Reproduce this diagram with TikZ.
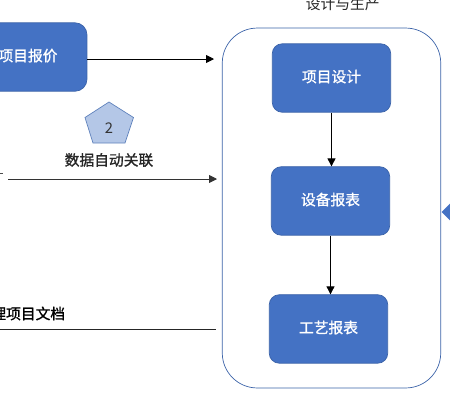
\documentclass[tikz,border=0pt]{standalone}
\usepackage{fontspec}
\setmainfont{Noto Sans CJK SC}
\newfontfamily\medfont[FakeBold=1.2]{Noto Sans CJK SC}
\usetikzlibrary{shapes.geometric,arrows.meta}
\definecolor{boxblue}{HTML}{4472C4}
\definecolor{boxedge}{HTML}{3A62A8}
\definecolor{penfill}{HTML}{B4C7E7}
\definecolor{penedge}{HTML}{5F82BC}
\begin{document}
\begin{tikzpicture}
    [x=0.02cm, y=-0.02cm,
    node distance =2.46cm,
    ->-/.style={thin, -{Triangle[length=4.5pt,width=4.5pt]}},
    block/.style={draw=boxedge, fill=boxblue, rounded corners=0.2cm, text=white, font=\fontsize{8.4}{10}\medfont, text depth=2.3pt, minimum width=2.37cm, minimum height=1.37cm, inner sep=0pt},
    caption/.style={inner sep=0pt, text=black!85, font=\fontsize{8.4}{10}\selectfont}]
        \useasboundingbox (0,0) rectangle (450,400);
        \clip (0,0) rectangle (450,400);

        %% Container
        \node[draw=boxedge, rounded corners=0.7cm, minimum width=4.37cm, minimum height=7.2cm, inner sep=0pt] (main) at (331.5,208) {};
        \node[caption] (title) at (342.7,4) {设计与生产};

        %% Blocks
        \node[block] (design) at (331.5,78) {项目设计};
        \node[block, below of = design, xshift=-0.02cm] (device) {设备报表};
        \node[block, below of = device, node distance=2.56cm, xshift=-0.04cm] (craft) {工艺报表};
        \node[block, rounded corners=0.24cm, minimum width=2.36cm] (quote) at (28,57) {项目报价};

        \draw[->-] (design.south) to (design.south |- device.north);
        \draw[->-] (device.south) to (device.south |- craft.north);

        %% Left side
        \coordinate (a1) at (214,59);
        \draw[->-] (quote.east |- a1) to (a1);

        \draw[draw=penedge, fill=penfill] (109,102) -- (133.5,117.5) -- (125,143) -- (93,143) -- (85,117.5) -- cycle;
        \node[inner sep=0pt, text=black!80, font=\fontsize{8.4}{10}\selectfont] (num) at (109,128) {2};
        \node[caption, font=\fontsize{8.4}{10}\medfont] (link) at (109,160) {数据自动关联};

        \coordinate (b0) at (8,179);
        \coordinate (b1) at (217,179);
        \draw[->-, black!80] (b0) to (b1);
        \coordinate (m0) at (0,173.5);
        \coordinate (m1) at (3,173.5);
        \draw[thin, black!70] (m0) to (m1);

        \node[caption, anchor=east, text=black, font=\fontsize{8.4}{10}\medfont] (docs) at (65.5,313.5) {理项目文档};
        \coordinate (c0) at (0,329.5);
        \coordinate (c1) at (215.5,329.5);
        \draw[thin, black!85] (c0) to (c1);

        %% Right side
        \node[diamond, fill=boxblue, inner sep=0pt, minimum size=0.5cm] (entry) at (454,212) {};
    \end{tikzpicture}
\end{document}
